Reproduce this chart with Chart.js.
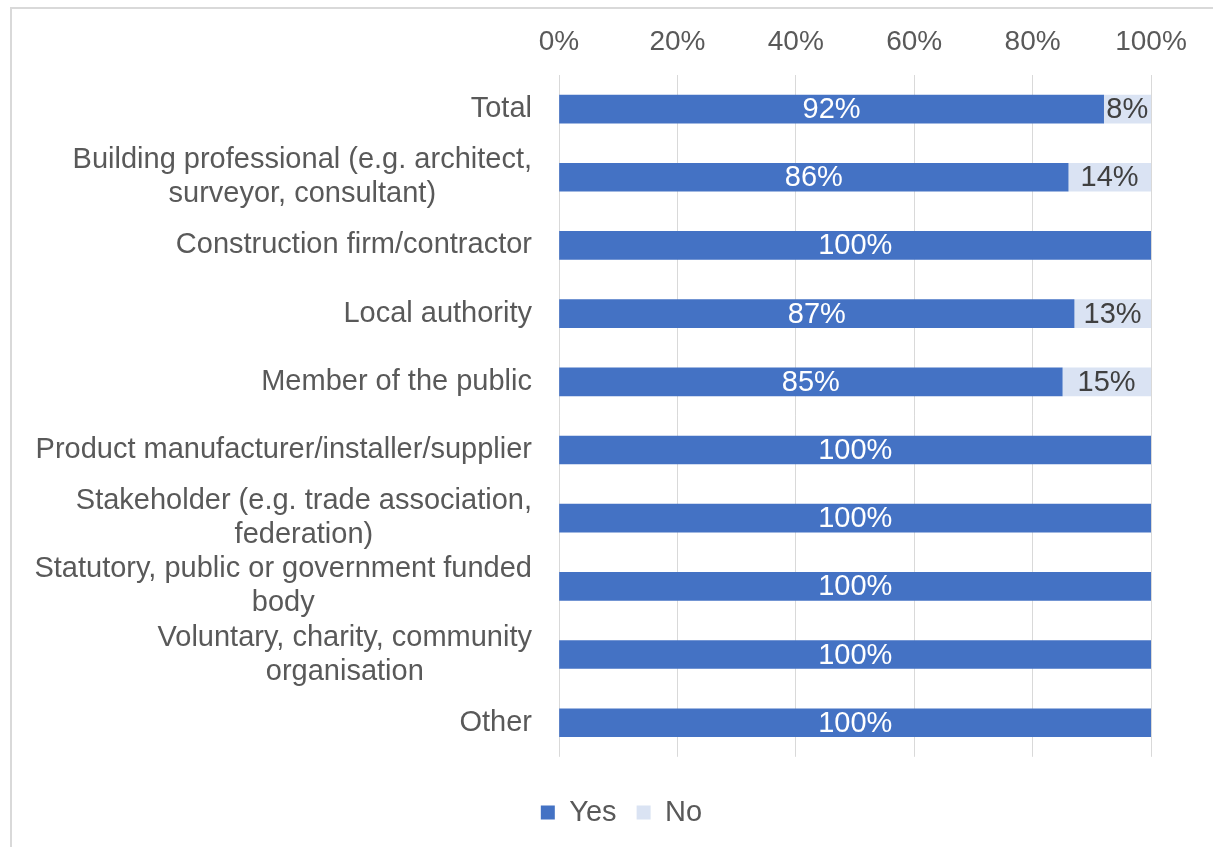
<!DOCTYPE html>
<html>
<head>
<meta charset="utf-8">
<script src="https://cdn.jsdelivr.net/npm/chart.js@4.4.1/dist/chart.umd.min.js"></script>
<style>
  html, body { margin: 0; padding: 0; background: #fff; }
  body { width: 1213px; height: 847px; overflow: hidden; position: relative; }
  #frame { position: absolute; left: 10px; top: 7px; width: 1300px; height: 900px; border-left: 2px solid #d9d9d9; border-top: 2px solid #d9d9d9; }
  #wrap { position: absolute; left: 0; top: 0; width: 1213px; height: 847px; }
</style>
</head>
<body>
<div id="frame"></div>
<div id="wrap"><canvas id="myChart"></canvas></div>
<script>
const ctx = document.getElementById('myChart');

const categories = [
  'Total',
  ['Building professional (e.g. architect,', 'surveyor, consultant)'],
  'Construction firm/contractor',
  'Local authority',
  'Member of the public',
  'Product manufacturer/installer/supplier',
  ['Stakeholder (e.g. trade association,', 'federation)'],
  ['Statutory, public or government funded', 'body'],
  ['Voluntary, charity, community', 'organisation'],
  'Other'
];
const yesValues = [92, 86, 100, 87, 85, 100, 100, 100, 100, 100];
const noValues = [8, 14, 0, 13, 15, 0, 0, 0, 0, 0];
const xTicks = [0, 20, 40, 60, 80, 100];

const FONT = "'Liberation Sans', Arial, sans-serif";

// percent labels in the middle of each bar segment
const barLabels = {
  id: 'barLabels',
  afterDatasetsDraw(chart) {
    const c = chart.ctx;
    c.save();
    c.font = '29px ' + FONT;
    c.textAlign = 'center';
    c.textBaseline = 'middle';
    chart.data.datasets.forEach((ds, i) => {
      const meta = chart.getDatasetMeta(i);
      meta.data.forEach((bar, j) => {
        const v = ds.data[j];
        if (!v) return;
        c.fillStyle = i === 0 ? '#ffffff' : '#404040';
        c.fillText(v + '%', (bar.x + bar.base) / 2, bar.y + 1);
      });
    });
    c.restore();
  }
};

// category names: right-aligned block, wrapped lines centred inside it
const categoryLabels = {
  id: 'categoryLabels',
  afterDraw(chart) {
    const c = chart.ctx;
    const y = chart.scales.y;
    const right = chart.chartArea.left - 27;
    const lh = 34;
    c.save();
    c.font = '29px ' + FONT;
    c.fillStyle = '#595959';
    c.textAlign = 'center';
    c.textBaseline = 'middle';
    chart.data.labels.forEach((lab, i) => {
      const lines = Array.isArray(lab) ? lab : [lab];
      const w = Math.max(...lines.map(t => c.measureText(t).width));
      const cx = right - w / 2;
      const cy = y.getPixelForValue(i);
      lines.forEach((t, k) => {
        c.fillText(t, cx, cy + (k - (lines.length - 1) / 2) * lh);
      });
    });
    c.restore();
  }
};

const data = {
  labels: categories,
  datasets: [
    { label: 'Yes', data: yesValues, backgroundColor: '#4472C4', barThickness: 28 },
    { label: 'No', data: noValues, backgroundColor: '#DAE3F3', barThickness: 28 }
  ]
};

const config = {
  type: 'bar',
  data: data,
  plugins: [barLabels, categoryLabels],
  options: {
    indexAxis: 'y',
    responsive: true,
    maintainAspectRatio: false,
    animation: false,
    layout: { padding: { top: 20, right: 0, bottom: 10, left: 30 } },
    scales: {
      x: {
        position: 'top',
        stacked: true,
        min: 0,
        max: 100,
        afterBuildTicks: (s) => { s.ticks = xTicks.map(v => ({ value: v })); },
        afterFit: (s) => { s.height = 55; },
        ticks: {
          color: '#595959',
          font: { family: FONT, size: 28 },
          padding: 16,
          autoSkip: false,
          maxRotation: 0,
          callback: (v) => v + '%'
        },
        grid: { color: '#d9d9d9', lineWidth: 1, drawTicks: false },
        border: { display: false }
      },
      y: {
        stacked: true,
        afterFit: (s) => { s.width = 529; },
        ticks: { display: false },
        grid: { display: false, drawTicks: false },
        border: { display: false }
      },
      // empty right-hand margin
      yRight: {
        position: 'right',
        afterFit: (s) => { s.width = 62; },
        ticks: { display: false },
        grid: { display: false, drawTicks: false },
        border: { display: false }
      }
    },
    plugins: {
      legend: {
        position: 'bottom',
        labels: {
          color: '#595959',
          font: { family: FONT, size: 29 },
          boxWidth: 14,
          boxHeight: 14,
          padding: 20
        },
        title: { display: true, text: ' ', font: { size: 1 }, padding: { top: 20, bottom: 0 } }
      },
      tooltip: { enabled: false }
    }
  }
};

const myChart = new Chart(ctx, config);
</script>
</body>
</html>
